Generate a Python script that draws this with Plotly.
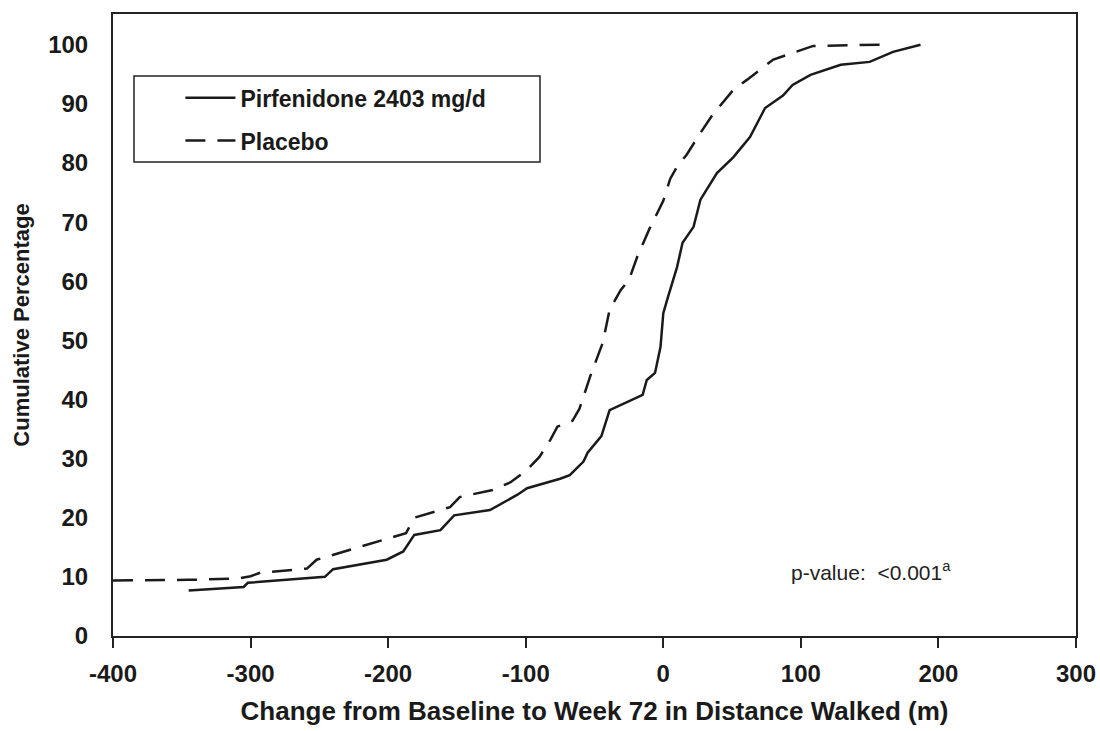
import plotly.graph_objects as go

# ---- data ----
pirf_x = [-345, -305, -302, -246, -240, -201, -189, -181, -162, -152, -126, -106, -99,
          -75, -68, -58, -55, -45, -39, -15, -12, -6, -2, 0, 3.5, 10, 14, 22, 27,
          39, 51, 63, 74, 87, 94, 107, 129, 150, 167, 187]
pirf_y = [7.7, 8.3, 9.0, 10.0, 11.3, 12.9, 14.3, 17.1, 17.9, 20.4, 21.3, 23.9, 25.0,
          26.6, 27.2, 29.5, 31.0, 33.8, 38.2, 40.8, 43.3, 44.5, 48.9, 54.6, 57.4, 62.4, 66.5, 69.2, 73.8,
          78.3, 81.0, 84.4, 89.3, 91.4, 93.2, 94.9, 96.6, 97.1, 98.8, 100.0]

plac_x = [-400, -345, -310, -300, -293, -259, -252, -235, -199, -187, -181, -155, -148,
          -124, -111, -99, -90, -82, -77, -66, -61, -53, -44, -39, -31, -25, -19, -10,
          0, 5, 10, 17, 27, 36, 51, 61, 80, 97, 109, 158]
plac_y = [9.4, 9.5, 9.7, 10.1, 10.7, 11.4, 12.9, 14.1, 16.6, 17.4, 20.0, 21.8, 23.5,
          24.7, 26.0, 28.1, 30.3, 33.2, 35.4, 36.4, 38.4, 44.0, 49.6, 55.2, 58.5, 60.2, 64.1, 68.9,
          73.6, 77.3, 79.4, 81.4, 85.1, 88.2, 92.4, 94.1, 97.5, 98.8, 99.8, 100.0]

series_names = ["Pirfenidone 2403 mg/d", "Placebo"]
x_ticks = [-400, -300, -200, -100, 0, 100, 200, 300]
x_ticktext = ["-400", "-300", "-200", "-100", "0", "100", "200", "300"]
y_ticks = [0, 10, 20, 30, 40, 50, 60, 70, 80, 90, 100]

INK = "#1a1a1a"
FONT = "Arial, Liberation Sans, sans-serif"

fig = go.Figure()
fig.add_trace(go.Scatter(x=pirf_x, y=pirf_y, mode="lines", name=series_names[0],
                         legendgroup="a", line=dict(color=INK, width=2.5)))
fig.add_trace(go.Scatter(x=plac_x, y=plac_y, mode="lines", name=series_names[1],
                         legendgroup="b", line=dict(color=INK, width=2.5, dash="20px,12px")))

fig.update_layout(
    width=1100, height=731,
    margin=dict(l=113, r=24, t=14, b=95, autoexpand=False),
    paper_bgcolor="white", plot_bgcolor="white",
    font=dict(family=FONT, color=INK),
    showlegend=True,
    legend=dict(x=0.07, y=0.90, xanchor="left", yanchor="top",
                bgcolor="rgba(0,0,0,0)", borderwidth=0,
                font=dict(size=23, weight="bold", color=INK),
                tracegroupgap=10, itemwidth=50),
    xaxis=dict(range=[-400, 300], tickvals=x_ticks, ticktext=x_ticktext, ticks="outside",
               ticklen=10, tickwidth=2, tickcolor="#222", showline=True, linewidth=2,
               linecolor="#222", mirror=True, showgrid=False, zeroline=False,
               automargin=False, ticklabelstandoff=5,
               tickfont=dict(size=24, weight="bold", color=INK),
               title=dict(text="Change from Baseline to Week 72 in Distance Walked (m)",
                          font=dict(size=26, weight="bold", color=INK), standoff=16)),
    yaxis=dict(range=[0, 105.2], tickvals=y_ticks, ticks="", showline=True, linewidth=2,
               linecolor="#222", mirror=True, showgrid=False, zeroline=False,
               automargin=False, ticklabelstandoff=18,
               tickfont=dict(size=24, weight="bold", color=INK),
               title=dict(text="Cumulative Percentage",
                          font=dict(size=22, weight="bold", color=INK), standoff=12)),
    shapes=[dict(type="rect", xref="x domain", yref="y domain",
                 x0=0.0218, x1=0.4434, y0=0.762, y1=0.9003,
                 line=dict(color="#222", width=1.5), fillcolor="rgba(0,0,0,0)")],
    annotations=[dict(x=151, y=11, xref="x", yref="y", showarrow=False,
                      text="p-value:&nbsp; &lt;0.001<sup>a</sup>",
                      font=dict(size=21, color="#222"))],
)

fig.write_html("out.html")
